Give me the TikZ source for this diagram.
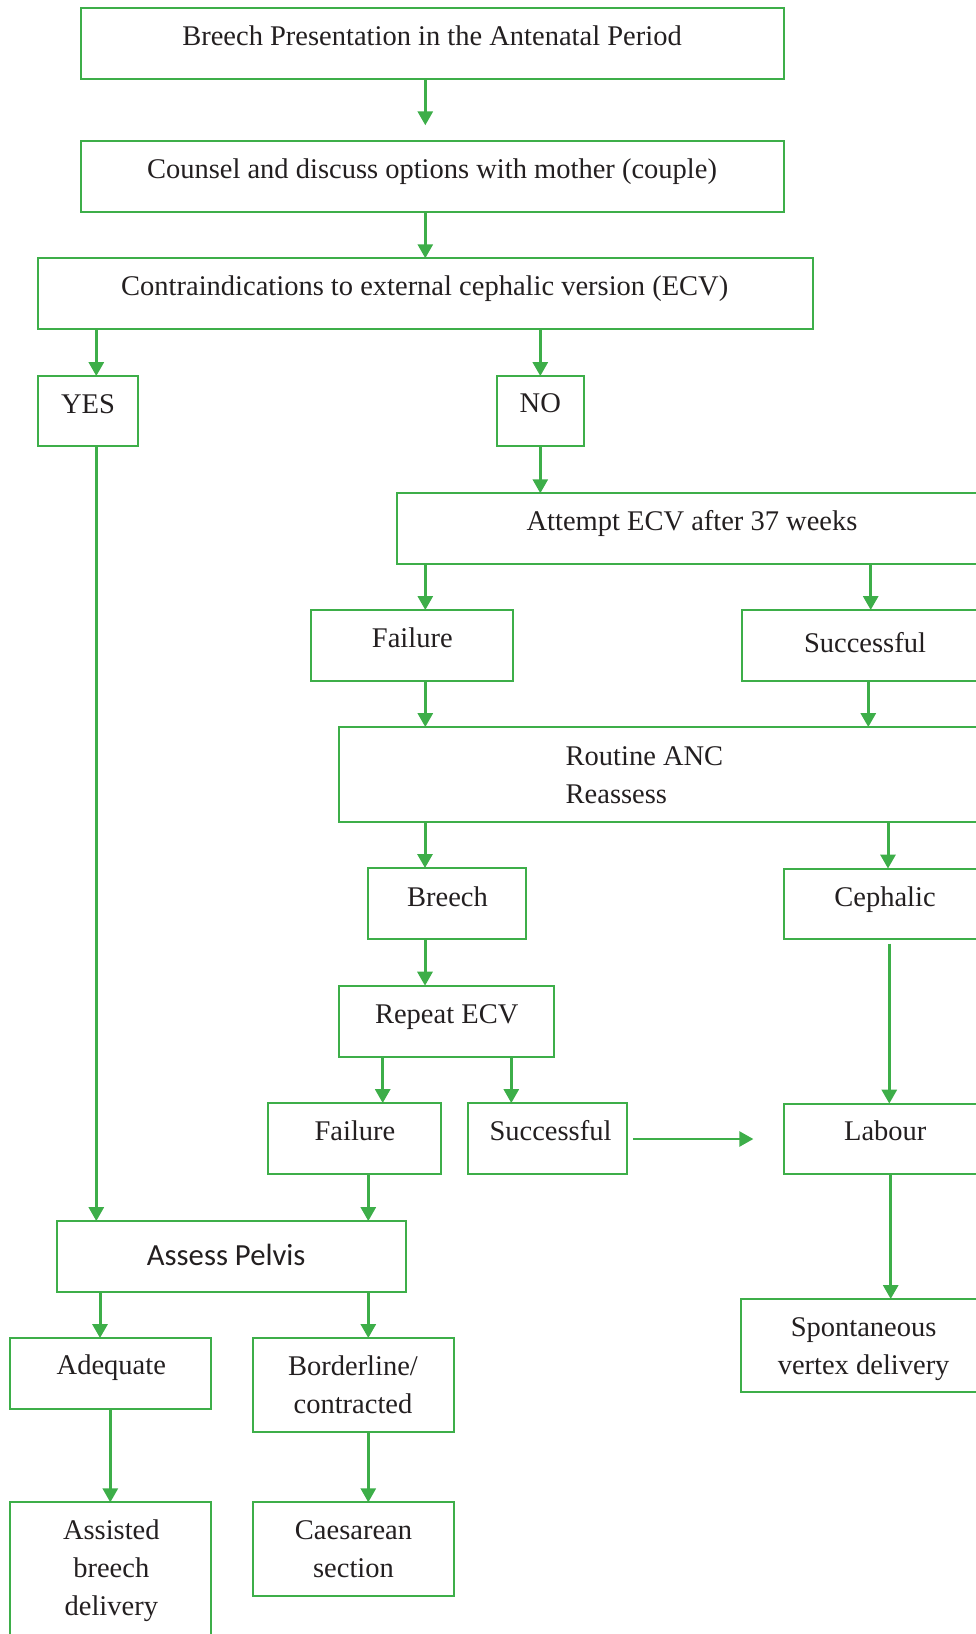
\documentclass[tikz,border=0pt]{standalone}
\usepackage{fontspec}
\setmainfont{Liberation Serif}
\newfontfamily\calib{Carlito}
\usetikzlibrary{arrows.meta}
\definecolor{flowgreen}{RGB}{61,174,73}
\definecolor{ink}{RGB}{35,31,32}
\begin{document}
\begin{tikzpicture}[x=1pt, y=-1pt,
  box/.style={draw=flowgreen, line width=2pt, inner sep=0pt, outer sep=0pt},
  txt/.style={inner sep=0pt, outer sep=0pt, anchor=north, align=center, text=ink,
    font=\fontsize{28.5}{38}\selectfont},
  sanstxt/.style={txt, font=\calib\fontsize{30.7}{38}\selectfont},
  arr/.style={draw=flowgreen, line width=3pt, -{Triangle[width=15pt,length=14pt]}}]
\useasboundingbox (0,0) rectangle (976,1634);
\clip (0,0) rectangle (976,1634);

% boxes
\node[box, minimum width=703.6pt, minimum height=70.7pt] (b1) at (432.5,43.6) {};
\node[box, minimum width=703.6pt, minimum height=70.4pt] (b2) at (432.5,176.5) {};
\node[box, minimum width=775pt, minimum height=70.7pt] (b3) at (425.2,293.6) {};
\node[box, minimum width=100.6pt, minimum height=70.3pt] (yes) at (88,411.2) {};
\node[box, minimum width=86.7pt, minimum height=70.3pt] (no) at (540.3,411.2) {};
\node[box, minimum width=589.7pt, minimum height=70.7pt] (att) at (692.2,528.6) {};
\node[box, minimum width=201.7pt, minimum height=71pt] (f1) at (411.9,645.5) {};
\node[box, minimum width=245.3pt, minimum height=71pt] (s1) at (864.4,645.5) {};
\node[box, minimum width=648.3pt, minimum height=94.7pt] (rt) at (662.9,774.4) {};
\node[box, minimum width=158.3pt, minimum height=71pt] (br) at (447.2,903.5) {};
\node[box, minimum width=202.7pt, minimum height=70.5pt] (ce) at (885.7,903.8) {};
\node[box, minimum width=215.6pt, minimum height=71pt] (rp) at (446.5,1021.2) {};
\node[box, minimum width=172.7pt, minimum height=71.3pt] (f2) at (354.7,1138.7) {};
\node[box, minimum width=159pt, minimum height=71.3pt] (s2) at (547.5,1138.7) {};
\node[box, minimum width=202.7pt, minimum height=70.4pt] (lb) at (885.7,1138.8) {};
\node[box, minimum width=348.4pt, minimum height=70.7pt] (ap) at (231.5,1256.4) {};
\node[box, minimum width=201.3pt, minimum height=70.7pt] (ad) at (110.7,1373.4) {};
\node[box, minimum width=201.3pt, minimum height=94pt] (bd) at (353.4,1385) {};
\node[box, minimum width=201.3pt, minimum height=142.7pt] (as) at (110.7,1573.7) {};
\node[box, minimum width=201.3pt, minimum height=94pt] (cs) at (353.4,1549.3) {};
\node[box, minimum width=245.7pt, minimum height=92.6pt] (sp) at (864.2,1345.3) {};

% labels
\node[txt] (t1) at (432,18.4) {\strut Breech Presentation in the Antenatal Period};
\node[txt] (t2) at (432,151.7) {\strut Counsel and discuss options with mother (couple)};
\node[txt] (t3) at (424.7,268.4) {\strut Contraindications to external cephalic version (ECV)};
\node[txt] (tyes) at (88,386.7) {\strut YES};
\node[txt] (tno) at (540.3,385.7) {\strut NO};
\node[txt] (tatt) at (692,503.4) {\strut Attempt ECV after 37 weeks};
\node[txt] (tf1) at (412.3,621.1) {\strut Failure};
\node[txt] (ts1) at (865,625.7) {\strut Successful};
\node[txt, anchor=north west, align=left] (trt) at (565.7,738.4) {\strut Routine ANC\\Reassess};
\node[txt] (tbr) at (447.5,879.4) {\strut Breech};
\node[txt] (tce) at (885,879.4) {\strut Cephalic};
\node[txt] (trp) at (446.7,996.7) {\strut Repeat ECV};
\node[txt] (tf2) at (355,1114.1) {\strut Failure};
\node[txt] (ts2) at (550.5,1113.4) {\strut Successful};
\node[txt] (tlb) at (885.3,1114.1) {\strut Labour};
\node[sanstxt] (tap) at (226.2,1238.4) {\strut Assess Pelvis};
\node[txt] (tad) at (111.3,1347.7) {\strut Adequate};
\node[txt] (tbd) at (353,1348.4) {\strut Borderline/\\contracted};
\node[txt] (tas) at (111.3,1512.7) {\strut Assisted\\breech\\delivery};
\node[txt] (tcs) at (353.5,1512.7) {\strut Caesarean\\section};
\node[txt] (tsp) at (863.6,1309.8) {\strut Spontaneous\\vertex delivery};

% connectors
\draw[arr, shorten >=16pt] (425.3,0 |- b1.south) -- (425.3,0 |- b2.north);
\draw[arr] (425.3,0 |- b2.south) -- (425.3,0 |- b3.north);
\draw[arr] (96.3,0 |- b3.south) -- (96.3,0 |- yes.north);
\draw[arr] (540.3,0 |- b3.south) -- (540.3,0 |- no.north);
\draw[arr] (540.3,0 |- no.south) -- (540.3,0 |- att.north);
\draw[arr] (96.3,0 |- yes.south) -- (96.3,0 |- ap.north);
\draw[arr] (425.3,0 |- att.south) -- (425.3,0 |- f1.north);
\draw[arr] (870.7,0 |- att.south) -- (870.7,0 |- s1.north);
\draw[arr] (425.3,0 |- f1.south) -- (425.3,0 |- rt.north);
\draw[arr] (868.3,0 |- s1.south) -- (868.3,0 |- rt.north);
\draw[arr] (425,0 |- rt.south) -- (425,0 |- br.north);
\draw[arr] (888,0 |- rt.south) -- (888,0 |- ce.north);
\draw[arr] (425,0 |- br.south) -- (425,0 |- rp.north);
\draw[arr] (382.7,0 |- rp.south) -- (382.7,0 |- f2.north);
\draw[arr] (511.3,0 |- rp.south) -- (511.3,0 |- s2.north);
\draw[arr] (368.3,0 |- f2.south) -- (368.3,0 |- ap.north);
\draw[arr, shorten <=4.6pt] (889.3,0 |- ce.south) -- (889.3,0 |- lb.north);
\draw[arr, line width=2.5pt, shorten <=6.4pt, shorten >=31pt] (s2.east |- 0,1139) -- (lb.west |- 0,1139);
\draw[arr] (890.7,0 |- lb.south) -- (890.7,0 |- sp.north);
\draw[arr] (100,0 |- ap.south) -- (100,0 |- ad.north);
\draw[arr] (368.3,0 |- ap.south) -- (368.3,0 |- bd.north);
\draw[arr] (110.3,0 |- ad.south) -- (110.3,0 |- as.north);
\draw[arr] (368.3,0 |- bd.south) -- (368.3,0 |- cs.north);
\end{tikzpicture}
\end{document}
